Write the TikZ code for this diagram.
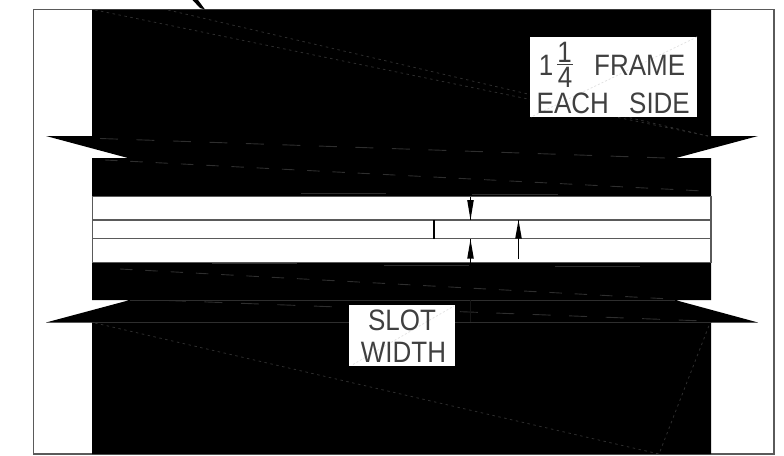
\documentclass[tikz,border=0pt]{standalone}
\usepackage{fontspec}
\setmainfont{Liberation Sans}
\newfontfamily\narrowcaps[FakeStretch=0.88]{Liberation Sans}
\definecolor{edgegray}{HTML}{5A5A5A}
\definecolor{faint}{HTML}{2E2E2E}
\definecolor{inkgray}{HTML}{404040}
\tikzset{
  px/.style={x=1pt,y=-1pt},
  frameline/.style={draw=edgegray,line width=1.1pt},
  slotline/.style={draw=edgegray,line width=1.3pt},
  dotline/.style={draw=faint,line width=.8pt,dash pattern=on 2.5pt off 3.5pt},
  lightdot/.style={draw=black!12,line width=.7pt,dash pattern=on 2pt off 2pt},
  longdash/.style={draw=faint,line width=.9pt,dash pattern=on 18pt off 18.5pt},
  shortdash/.style={draw=faint,line width=.9pt,dash pattern=on 12.5pt off 12.8pt},
  hairline/.style={draw=faint,line width=.9pt},
  labelbox/.style={fill=white,draw=none,inner sep=0pt,anchor=north west},
  caps/.style={text=inkgray,inner sep=0pt,text height=21pt,text depth=0pt,font=\narrowcaps\fontsize{29.5}{29.5}\selectfont},
  dimarrow/.style={draw=black,line width=.9pt},
  arrowfill/.style={fill=black,draw=none},
}
\begin{document}
\begin{tikzpicture}[px]
\useasboundingbox (0,0) rectangle (784,455);
\fill[white] (0,0) rectangle (784,455);
% frame
\draw[frameline] (33.5,9.5) rectangle (774,454);
% black mass with spikes
\fill[black] (92,9.5) -- (711,9.5) -- (711,136) -- (758,136) -- (676,158) -- (711,158)
  -- (711,196.5) -- (92,196.5) -- (92,158) -- (128,158) -- (46,136) -- (92,136) -- cycle;
\fill[black] (92,262.5) -- (711,262.5) -- (711,300) -- (675,300) -- (758,322.5) -- (711,322.5)
  -- (711,454) -- (92,454) -- (92,322.5) -- (46,322.5) -- (130,300) -- (92,300) -- cycle;
\fill[black] (192.5,0) -- (198,0) -- (205,9.5) -- (200,8) -- cycle;
% slot
\draw[slotline] (92.8,196.5) -- (711,196.5) -- (711,262.5) -- (92.8,262.5) -- cycle;
\draw[slotline] (92.8,220) -- (711,220);
\draw[slotline] (92.8,238.7) -- (711,238.7);
\draw[black,line width=2pt] (434,220) -- (434,238.7);
% faint lines on black
\draw[dotline] (95,10) -- (708,136);
\draw[dotline] (168,10) -- (708,136);
\draw[dotline] (95,323) -- (659,454) -- (710,323);
\draw[longdash] (100,138.5) -- (680,158.5);
\draw[shortdash] (105,160) -- (703,191);
\draw[shortdash] (120,269) -- (670,299);
\draw[longdash] (168,300.5) -- (704,321);
\draw[hairline] (130,300) -- (675,300);
\draw[hairline] (92,322.5) -- (711,322.5);
\draw[hairline] (301,193.3) -- (386,193.3);
\draw[hairline] (472,194) -- (558,194);
\draw[hairline] (212,263.8) -- (297,263.8);
\draw[hairline] (384,265.7) -- (469,265.7);
\draw[hairline] (555,266.7) -- (640,266.7);
\draw[draw=black!92,line width=.5pt] (470.5,300) -- (470.5,322);
% dimension arrows
\coordinate (d1a) at (470.5,196.5);
\coordinate (d1b) at (470.5,220);
\coordinate (d2a) at (470.5,262.5);
\coordinate (d2b) at (470.5,239);
\coordinate (d3a) at (518.5,259);
\coordinate (d3b) at (518.5,220);
\draw[dimarrow] (d1a) -- (d1b);
\draw[dimarrow] (d2a) -- (d2b);
\draw[dimarrow] (d3a) -- (d3b);
\fill[arrowfill] (470.5,220) -- (467.2,200) -- (473.8,200) -- cycle;
\fill[arrowfill] (470.5,239.5) -- (467.2,258.5) -- (473.8,258.5) -- cycle;
\fill[arrowfill] (518.5,220) -- (515.2,238.5) -- (521.8,238.5) -- cycle;
% labels
\node[labelbox,minimum width=167pt,minimum height=80.5pt] (framebox) at (530,36.5) {};
\draw[lightdot] (697,37) -- (531,117);
\node[caps,anchor=base west] (framelbl) at (594,75) {FRAME};
\node[caps,anchor=base west] (eachlbl) at (536.5,113) {EACH};
\node[caps,anchor=base west] (sidelbl) at (629,113) {SIDE};
\node[caps,anchor=base] (whole) at (546,75) {1};
\node[caps,anchor=base] (numer) at (564.5,62.5) {1};
\node[caps,anchor=base] (denom) at (565,87.5) {4};
\draw[draw=inkgray,line width=1.2pt] (557,64.5) -- (573,64.5);
\node[labelbox,minimum width=106pt,minimum height=61pt] (slotbox) at (349,305) {};
\draw[lightdot] (353,364.5) -- (454,306);
\node[caps,anchor=base] (slotlbl) at (402,330) {SLOT};
\node[caps,anchor=base] (widthlbl) at (403.5,362) {WIDTH};
\end{tikzpicture}
\end{document}
